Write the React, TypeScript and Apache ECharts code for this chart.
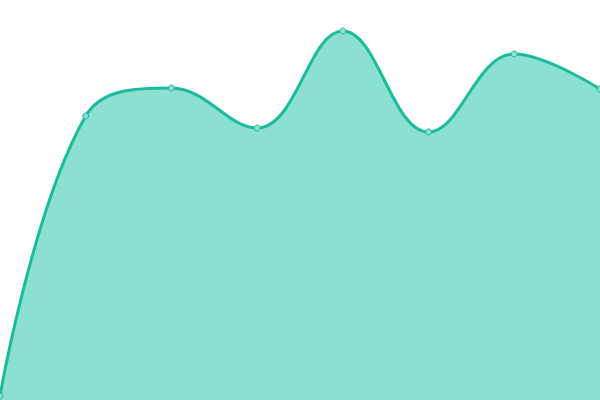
import React, { useEffect, useRef } from 'react';
import * as echarts from 'echarts';

const categories = ['1', '2', '3', '4', '5', '6', '7', '8'];
const values = [4, 284, 312, 272, 369, 268, 346, 311];

const App: React.FC = () => {
  const chartRef = useRef<HTMLDivElement>(null);

  useEffect(() => {
    document.body.style.margin = '0';
    const chart = echarts.init(chartRef.current!, null, { renderer: 'svg' });

    chart.setOption({
      animation: false,
      grid: { left: 0, right: 0, top: 0, bottom: 0 },
      xAxis: {
        type: 'category',
        data: categories,
        boundaryGap: false,
        show: false,
      },
      yAxis: {
        type: 'value',
        min: 0,
        max: 400,
        show: false,
      },
      series: [
        {
          type: 'line',
          data: values,
          smooth: 0.4,
          symbol: 'circle',
          symbolSize: 6,
          lineStyle: { color: '#1abc9c', width: 3 },
          itemStyle: { color: '#8be0cf', borderColor: '#1abc9c', borderWidth: 1 },
          areaStyle: { color: '#8be0cf', opacity: 1 },
        },
      ],
    });

    return () => {
      chart.dispose();
    };
  }, []);

  return <div ref={chartRef} style={{ width: '600px', height: '400px' }} />;
};

export default App;
